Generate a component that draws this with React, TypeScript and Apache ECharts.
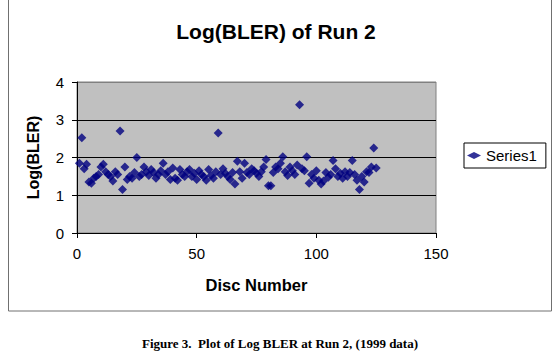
import React, { useEffect, useRef } from "react";
import * as echarts from "echarts";

const chartTitle = "Log(BLER) of Run 2";
const xAxisName = "Disc Number";
const yAxisName = "Log(BLER)";
const seriesName = "Series1";
const caption = "Figure 3.  Plot of Log BLER at Run 2, (1999 data)";

const xTicks = [0, 50, 100, 150];
const yTicks = [0, 1, 2, 3, 4];

// Log(BLER) per disc, discs numbered 1..125
const logBler = [
  1.85, 2.52, 1.7, 1.82, 1.35, 1.32, 1.45, 1.5, 1.55, 1.75,
  1.82, 1.62, 1.55, 1.5, 1.38, 1.62, 1.55, 2.7, 1.15, 1.75,
  1.42, 1.5, 1.45, 1.6, 2.0, 1.5, 1.55, 1.75, 1.62, 1.52,
  1.68, 1.6, 1.45, 1.55, 1.65, 1.85, 1.55, 1.62, 1.42, 1.72,
  1.45, 1.4, 1.68, 1.55, 1.5, 1.62, 1.68, 1.5, 1.58, 1.42,
  1.65, 1.55, 1.5, 1.4, 1.68, 1.52, 1.45, 1.62, 2.65, 1.55,
  1.7, 1.58, 1.5, 1.42, 1.6, 1.3, 1.9, 1.62, 1.45, 1.85,
  1.6, 1.55, 1.7, 1.65, 1.58, 1.5, 1.62, 1.75, 1.95, 1.25,
  1.25, 1.6, 1.75, 1.7, 1.85, 2.02, 1.62, 1.52, 1.75, 1.65,
  1.55, 1.8, 3.4, 1.7, 1.65, 2.02, 1.32, 1.55, 1.45, 1.65,
  1.4, 1.3, 1.38, 1.6, 1.48, 1.55, 1.92, 1.7, 1.5, 1.58,
  1.45, 1.62, 1.5, 1.6, 1.92, 1.55, 1.4, 1.15, 1.5, 1.35,
  1.62, 1.6, 1.75, 2.25, 1.72,
];

const FONT = "'Liberation Sans', Arial, sans-serif";

export default function App() {
  const ref = useRef<HTMLDivElement>(null);

  useEffect(() => {
    if (!ref.current) return;
    const chart = echarts.init(ref.current, null, { renderer: "svg" });
    const data = logBler.map((v, i) => [i + 1, v]);
    chart.setOption({
      animation: false,
      backgroundColor: "#ffffff",
      grid: {
        left: 77,
        right: 121,
        top: 82,
        bottom: 121,
        show: true,
        backgroundColor: "#C0C0C0",
        borderColor: "#808080",
        borderWidth: 1,
      },
      legend: {
        data: [seriesName],
        left: 464,
        top: 143,
        orient: "vertical",
        icon: "diamond",
        itemWidth: 14,
        itemHeight: 7,
        padding: [5, 9, 5, 3],
        borderColor: "#000000",
        borderWidth: 1,
        textStyle: { fontFamily: FONT, fontSize: 15, color: "#000" },
      },
      xAxis: {
        type: "value",
        min: xTicks[0],
        max: xTicks[xTicks.length - 1],
        interval: 50,
        name: xAxisName,
        nameLocation: "middle",
        nameGap: 43,
        nameTextStyle: { fontFamily: FONT, fontSize: 16.5, fontWeight: "bold", color: "#000" },
        axisLine: { show: true, onZero: false, lineStyle: { color: "#000", width: 1 } },
        axisTick: { show: true, length: 5, lineStyle: { color: "#000" } },
        axisLabel: { fontFamily: FONT, fontSize: 15, color: "#000", margin: 13 },
        splitLine: { show: false },
      },
      yAxis: {
        type: "value",
        min: yTicks[0],
        max: yTicks[yTicks.length - 1],
        interval: 1,
        name: yAxisName,
        nameLocation: "middle",
        nameGap: 36,
        nameRotate: 90,
        nameTextStyle: { fontFamily: FONT, fontSize: 16, fontWeight: "bold", color: "#000" },
        axisLine: { show: true, onZero: false, lineStyle: { color: "#000", width: 1 } },
        axisTick: { show: true, length: 5, lineStyle: { color: "#000" } },
        axisLabel: { fontFamily: FONT, fontSize: 15, color: "#000", margin: 13 },
        splitLine: {
          show: true,
          lineStyle: { color: ["#000", "#000", "#000", "#000", "#808080"], width: 1 },
        },
      },
      series: [
        {
          name: seriesName,
          type: "scatter",
          data,
          symbol: "diamond",
          symbolSize: 9,
          itemStyle: { color: "#000080" },
        },
      ],
      graphic: [
        {
          type: "rect",
          shape: { x: 8.5, y: -1, width: 543, height: 312 },
          style: { fill: "none", stroke: "#707070", lineWidth: 1 },
          silent: true,
          z: -10,
        },
        {
          type: "text",
          x: 276,
          y: 31,
          style: {
            text: chartTitle,
            fontFamily: FONT,
            fontSize: 21,
            fontWeight: "bold",
            fill: "#000",
            textAlign: "center",
            textVerticalAlign: "middle",
          },
        },
        {
          type: "text",
          x: 280,
          y: 343,
          style: {
            text: caption,
            fontFamily: "'Liberation Serif', 'Times New Roman', serif",
            fontSize: 13,
            fontWeight: "bold",
            fill: "#000",
            textAlign: "center",
            textVerticalAlign: "middle",
          },
        },
      ],
    });
    return () => chart.dispose();
  }, []);

  return (
    <div
      ref={ref}
      style={{ position: "absolute", left: 0, top: 0, width: 557, height: 354, background: "#fff" }}
    />
  );
}
